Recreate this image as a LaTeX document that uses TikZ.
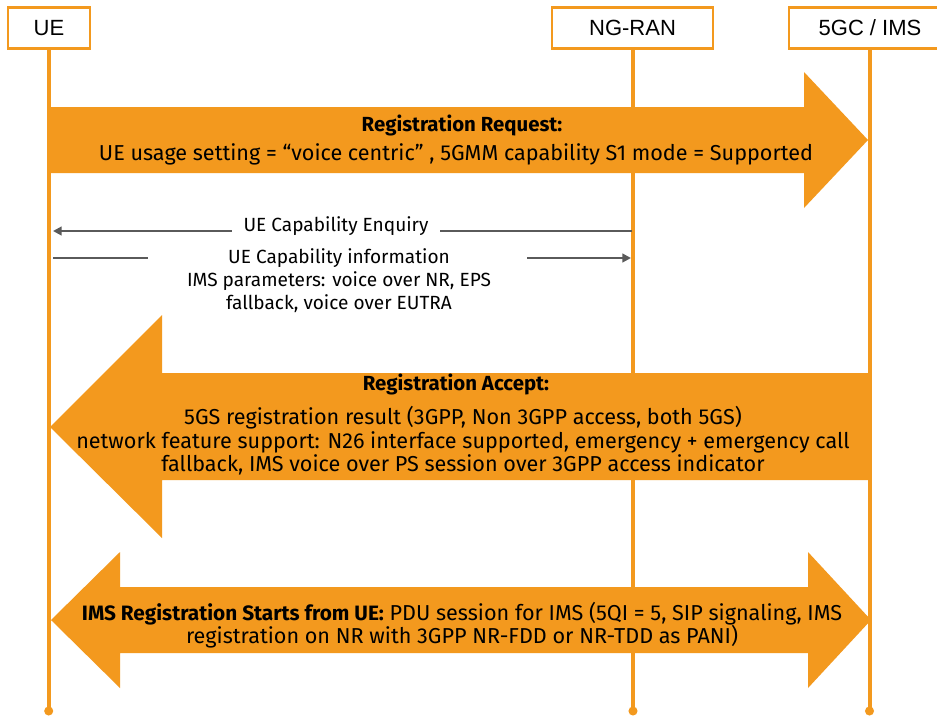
\documentclass[tikz,border=0pt]{standalone}
\usepackage{fontspec}
\setmainfont{Fira Sans}
\newfontfamily\hdrfont{Liberation Sans}
\usetikzlibrary{arrows.meta}
\definecolor{org}{HTML}{F3991E}
\definecolor{msgc}{HTML}{5A5A5A}
\tikzset{
  hdr/.style={draw=org, line width=1.7pt, fill=white, inner sep=0pt,
    minimum height=30.75pt, font=\hdrfont\fontsize{16.5}{18}\selectfont},
  life/.style={draw=org, line width=3pt},
  enddot/.style={fill=org},
  bigarrow/.style={fill=org, draw=none},
  msg/.style={draw=msgc, line width=1.8pt},
  msgarr/.style={msg, -{Triangle[length=6.5pt,width=6.5pt]}},
  txt/.style={font=\fontsize{14.3}{17.3}\selectfont, align=center, inner sep=0pt},
  atxt/.style={font=\fontsize{16.2}{17.7}\selectfont, align=center, inner sep=0pt},
  btxt/.style={font=\fontsize{15.3}{17.7}\selectfont\bfseries, align=center, inner sep=0pt},
}
\begin{document}
\begin{tikzpicture}[x=0.75pt,y=-0.75pt]
\useasboundingbox (0,0) rectangle (937,715);
\fill[white] (0,0) rectangle (937,715);

% big arrows
\fill[bigarrow] (48,107) -- (804,107) -- (804,72) -- (868,140) -- (804,208) -- (804,173) -- (48,173) -- cycle;
\fill[bigarrow] (869,373) -- (162,373) -- (162,315) -- (50,427) -- (162,538) -- (162,480) -- (869,480) -- cycle;
\fill[bigarrow] (51,620) -- (120,552) -- (120,587) -- (808,587) -- (808,552) -- (871,620) -- (808,688) -- (808,653) -- (120,653) -- (120,688) -- cycle;

% header boxes
\node[hdr, minimum width=61.5pt] (ue) at (49,28) {UE};
\node[hdr, minimum width=120.75pt] (ran) at (632.5,28) {NG-RAN};
\node[hdr, minimum width=121.5pt] (core) at (870,28) {5GC / IMS};

% lifeline ends
\coordinate (ueEnd) at (48.7,711);
\coordinate (ranEnd) at (633,711);
\coordinate (coreEnd) at (869.5,711);
\draw[life] (ue.south -| ueEnd) -- (ueEnd);
\draw[life] (ran.south -| ranEnd) -- (ranEnd);
\draw[life] (core.south -| coreEnd) -- (coreEnd);
\fill[enddot] (ueEnd) circle[radius=3.4pt];
\fill[enddot] (ranEnd) circle[radius=3.4pt];
\fill[enddot] (coreEnd) circle[radius=3.4pt];

% thin messages
\coordinate (ranE) at (632,231);
\coordinate (ueE) at (53,231);
\draw[msgarr] (ranE) -- (ueE);
\node[txt, fill=white, inner xsep=9pt, inner ysep=2pt] (enq) at (336,226) {UE Capability Enquiry};

\coordinate (ueI) at (53,258);
\coordinate (iL) at (148,258);
\coordinate (iR) at (527,258);
\coordinate (ranI) at (631,258);
\draw[msg] (ueI) -- (iL);
\draw[msgarr] (iR) -- (ranI);
\node[txt] (info) at (339,281) {UE Capability information\\IMS parameters: voice over NR, EPS\\fallback, voice over EUTRA};

% texts in big arrows
\node[btxt] (rrqT) at (462,125) {Registration Request:};
\node[atxt] (rrq) at (456,154) {UE usage setting = “voice centric” , 5GMM capability S1 mode = Supported};

\node[btxt] (raT) at (456,384) {Registration Accept:};
\node[atxt] (ra) at (463,441) {5GS registration result (3GPP, Non 3GPP access, both 5GS)\\network feature support: N26 interface supported, emergency + emergency call\\fallback, IMS voice over PS session over 3GPP access indicator};

\node[atxt] (ims) at (462,625) {{\fontsize{15.6}{17.7}\selectfont\bfseries IMS Registration Starts from UE:} PDU session for IMS (5QI = 5, SIP signaling, IMS\\registration on NR with 3GPP NR-FDD or NR-TDD as PANI)};
\end{tikzpicture}
\end{document}
